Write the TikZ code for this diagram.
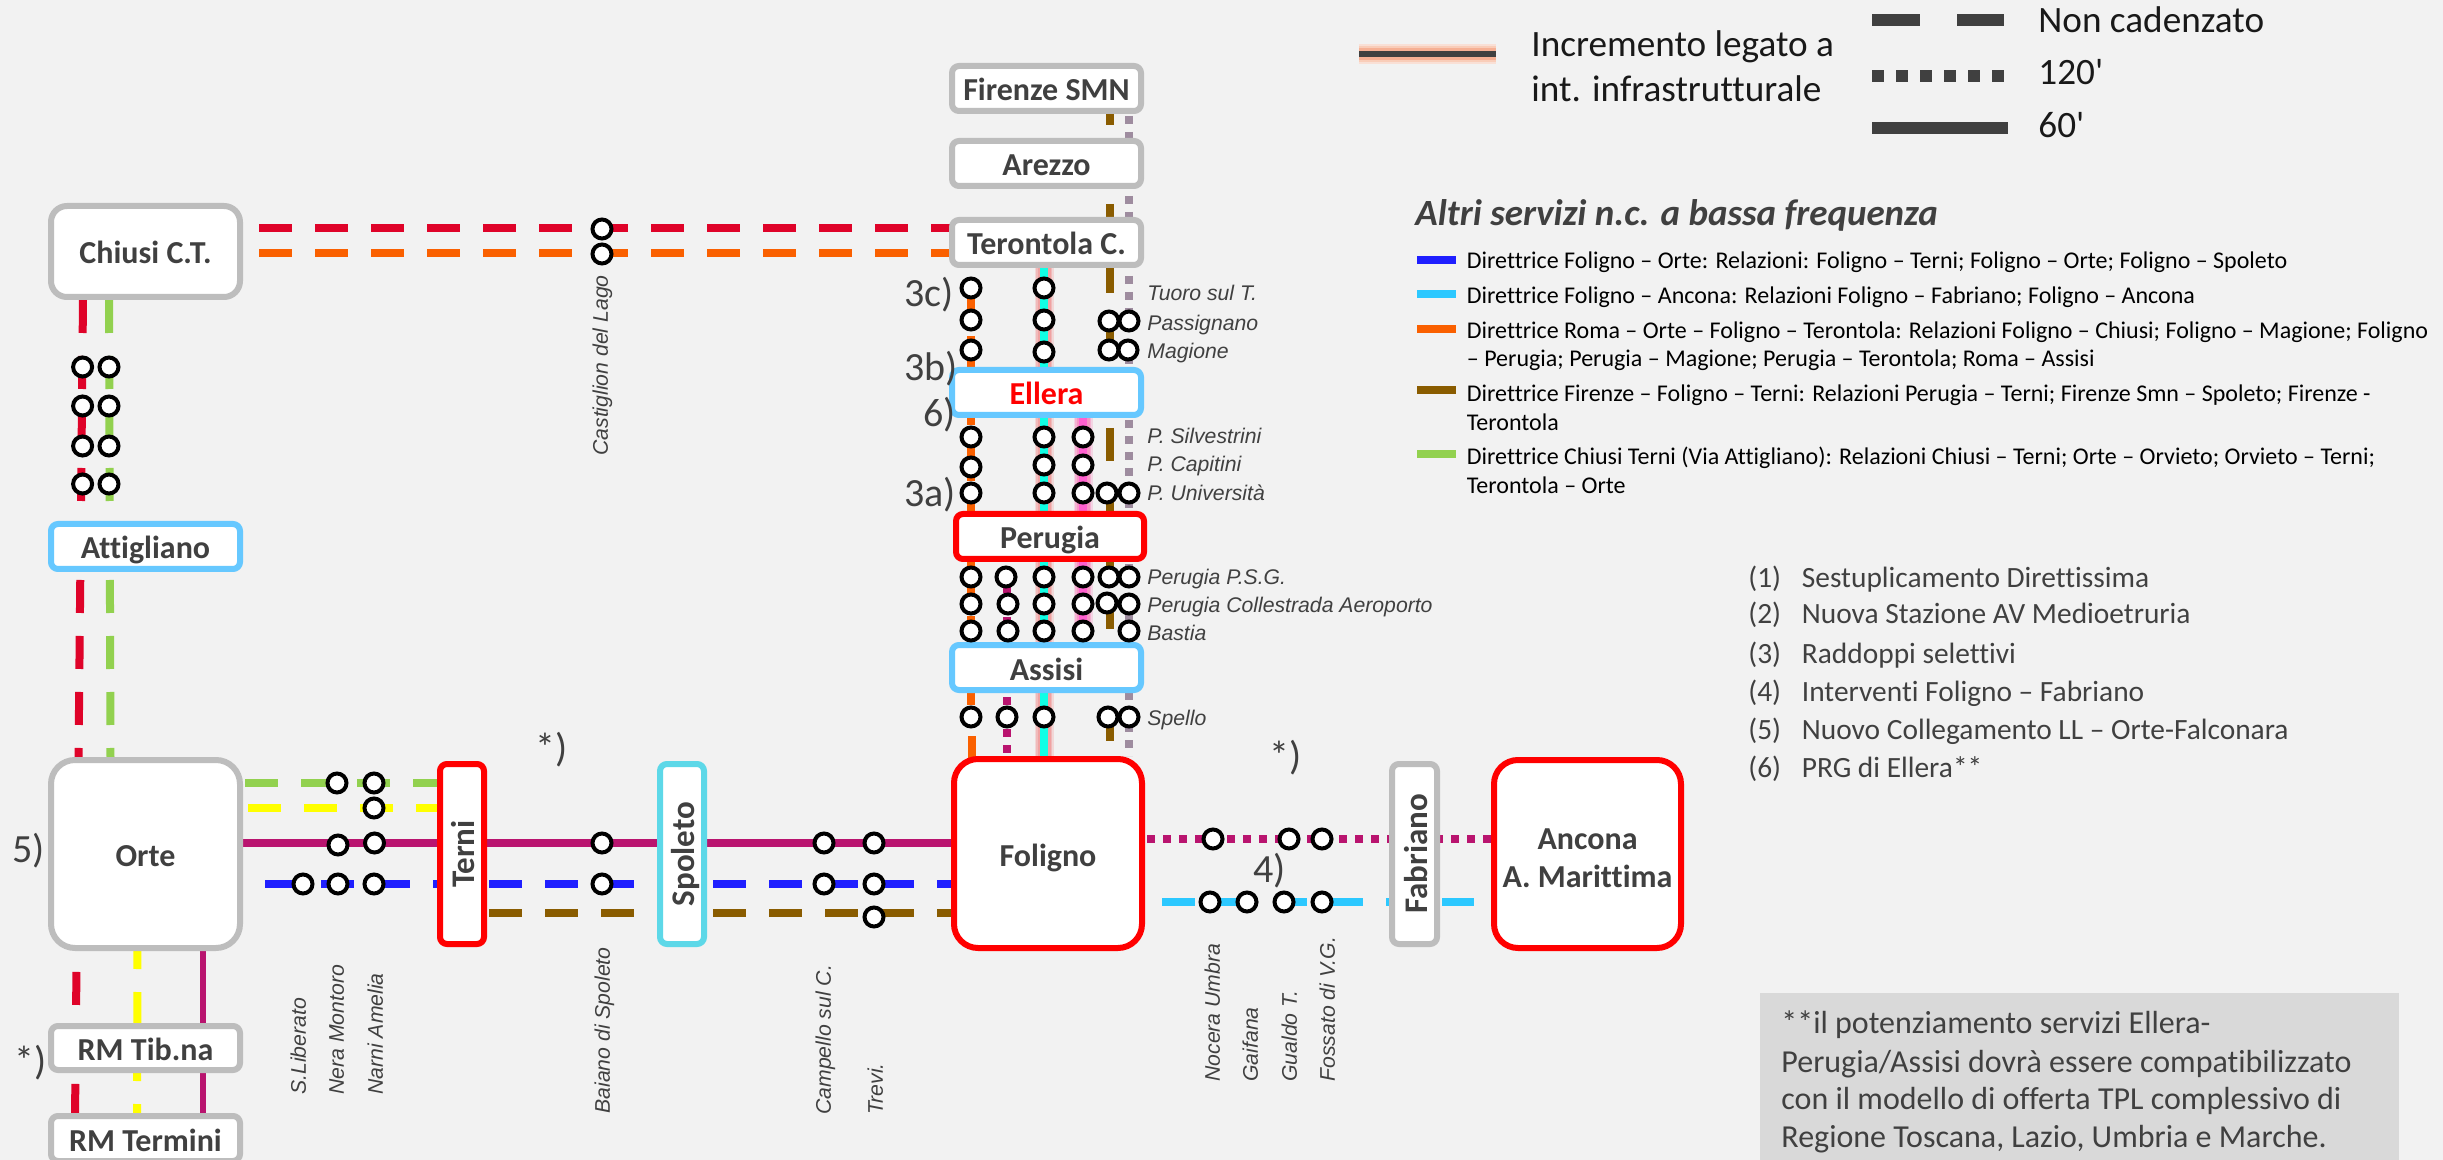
\documentclass[tikz,border=0pt]{standalone}
\usepackage{fontspec}
\setmainfont{Carlito}[Ligatures=NoCommon]
\newfontfamily\stnfont{Liberation Sans}
\newfontfamily\plainlat{Carlito}
\newcommand{\fz}[1]{\fontsize{#1}{#1}\selectfont}
\definecolor{bgc}{HTML}{F2F2F2}
\definecolor{txt}{HTML}{404040}
\definecolor{gbox}{HTML}{BDBDBD}
\definecolor{bbox}{HTML}{66C8FF}
\definecolor{rbox}{HTML}{FF0000}
\definecolor{sbox}{HTML}{5DD8E8}
\definecolor{lred}{HTML}{DF0329}
\definecolor{lorange}{HTML}{FA6000}
\definecolor{lgreen}{HTML}{92D14F}
\definecolor{lyellow}{HTML}{FFFF00}
\definecolor{lmag}{HTML}{B9146F}
\definecolor{lblue}{HTML}{1F1FFF}
\definecolor{lcyan}{HTML}{2CC8FF}
\definecolor{lbrown}{HTML}{8A5C00}
\definecolor{lgrey}{HTML}{9E8C9F}
\definecolor{lturq}{HTML}{10FFE6}
\definecolor{lpink}{HTML}{FF5FCF}
\definecolor{glow}{HTML}{F08080}
\definecolor{notebg}{HTML}{D9D9D9}
\definecolor{lgA}{HTML}{F9E0D6}
\definecolor{lgB}{HTML}{F9CDB9}
\definecolor{lgC}{HTML}{F6B094}
\tikzset{
  railwide/.style={line width=4pt,line cap=butt},
  railthin/.style={line width=3.25pt,line cap=butt},
  dashrail/.style={railwide,dash pattern=on 16.5pt off 11.5pt},
  dotrail/.style={railwide,dash pattern=on 4pt off 4pt},
  stnbox/.style={fill=white,line width=3pt,inner sep=0pt,outer sep=0pt,text=txt,font=\bfseries\fz{16},text height=12.5pt,text depth=0pt,align=center},
  stop/.style={circle,draw=black,fill=white,line width=2pt,minimum size=9.5pt,inner sep=0pt},
  stnbase/.style={font=\stnfont\itshape\fz{10.6},text=txt,inner sep=0pt,anchor=mid west},
  stnlabel/.style={stnbase,yshift=-1.2pt},
  stnlabelv/.style={stnbase,rotate=90},
  refnote/.style={font=\fz{20},text=txt,inner sep=0pt,anchor=mid west,yshift=-3.8pt},
  listtext/.style={font=\fz{12},text=black,inner sep=0pt,anchor=mid west,yshift=-1.8pt},
  numtext/.style={font=\fz{14.7},text=txt,inner sep=0pt,anchor=mid west,yshift=-3pt},
  notetext/.style={font=\fz{16},text=txt,inner sep=0pt,anchor=mid west,yshift=-2.6pt},
  legtext/.style={font=\fz{18.6},text=black!90,inner sep=0pt,anchor=mid west,yshift=-3.8pt},
  legbar/.style={line width=6pt,draw=txt},
  swatch/.style={line width=4pt},
}
\newcommand{\stb}[8]{\node[stnbox,draw=#6,rounded corners=#7,minimum width={(#4-6)*0.5pt},minimum height={(#5-6)*0.5pt}] (#1) at (#2,#3) {#8};}
\newcommand{\stbv}[7]{\node[stnbox,font=\bfseries\fz{16.5},draw=#6,rounded corners=3.5pt,rotate=90,minimum width={(#5-6)*0.5pt},minimum height={(#4-6)*0.5pt}] (#1) at (#2,#3) {#7};}
\begin{document}
\begin{tikzpicture}[x=0.5pt,y=-0.5pt]
\fill[bgc] (0,0) rectangle (2443,1160);
\useasboundingbox (0,0) rectangle (2443,1160);

% line end points
\coordinate (rcA) at (259,228); \coordinate (rcB) at (950,228);
\coordinate (ocA) at (259,253); \coordinate (ocB) at (950,253);
\coordinate (rvA) at (83,300);  \coordinate (rvB) at (75,1120);
\coordinate (gvA) at (109,300); \coordinate (gvB) at (110.5,757);
\coordinate (yvA) at (137.5,936); \coordinate (yvB) at (137,1113);
\coordinate (mvA) at (203,951); \coordinate (mvB) at (203,1113);
\coordinate (ghA) at (245,783); \coordinate (ghB) at (437,783);
\coordinate (yhA) at (248,808); \coordinate (yhB) at (437,808);
\coordinate (mhA) at (243,843); \coordinate (mhB) at (951,843);
\coordinate (bhA) at (265,884); \coordinate (bhB) at (951,884);
\coordinate (ohA) at (489,913); \coordinate (ohB) at (951,913);
\coordinate (mrA) at (1147,839); \coordinate (mrB) at (1491,839);
\coordinate (crA) at (1162,902); \coordinate (crB) at (1474,902);
\coordinate (ovA) at (971,280); \coordinate (ovB) at (971,705);
\coordinate (ovC) at (972,736); \coordinate (ovD) at (972,760);
\coordinate (mdA) at (1007,569); \coordinate (mdB) at (1007,756);
\coordinate (tqA) at (1044,268); \coordinate (tqB) at (1044,756);
\coordinate (pkA) at (1083,418); \coordinate (pkB) at (1083,631);
\coordinate (brA) at (1110,92); \coordinate (brB) at (1110,756);
\coordinate (gyA) at (1129,116); \coordinate (gyB) at (1129,756);

% glows
\foreach \w/\o in {9.5/.22,8/.32,6.5/.42}{
  \draw[glow,line width=\w pt,opacity=\o] (tqA) -- (tqB);
  \draw[lpink!60!glow,line width=\w pt,opacity=\o] (pkA) -- (pkB);
}
% lines
\draw[lgreen,dashrail] (gvA) -- (gvB);
\draw[lred,dashrail] (rvA) -- (rvB);
\draw[lyellow,dashrail] (yvA) -- (yvB);
\draw[lmag,railthin] (mvA) -- (mvB);
\draw[lred,dashrail] (rcA) -- (rcB);
\draw[lorange,dashrail] (ocA) -- (ocB);
\draw[lgreen,dashrail] (ghA) -- (ghB);
\draw[lyellow,dashrail] (yhA) -- (yhB);
\draw[lmag,railwide] (mhA) -- (mhB);
\draw[lblue,dashrail] (bhA) -- (bhB);
\draw[lbrown,dashrail] (ohA) -- (ohB);
\draw[lmag,dotrail] (mrA) -- (mrB);
\draw[lcyan,dashrail] (crA) -- (crB);
\draw[lorange,dashrail] (ovA) -- (ovB);
\draw[lorange,railwide] (ovC) -- (ovD);
\draw[lmag,dotrail] (mdA) -- (mdB);
\draw[lturq,railwide] (tqA) -- (tqB);
\draw[lpink,railwide] (pkA) -- (pkB);
\draw[lbrown,dashrail] (brA) -- (brB);
\draw[lgrey,dotrail] (gyA) -- (gyB);

% station boxes
\stb{firenze}{1046.5}{88.5}{195}{51}{gbox}{3.5pt}{Firenze SMN}
\stb{arezzo}{1046.5}{163.5}{195}{51}{gbox}{3.5pt}{Arezzo}
\stb{terontola}{1046.5}{242.5}{195}{51}{gbox}{3.5pt}{Terontola C.}
\stb{ellera}{1046.5}{392.5}{195}{51}{bbox}{3.5pt}{\textcolor{rbox}{Ellera}}
\stb{perugia}{1050}{536.5}{194}{51}{rbox}{3.5pt}{Perugia}
\stb{assisi}{1046.5}{667.5}{195}{51}{bbox}{3.5pt}{Assisi}
\stb{foligno}{1048}{853.5}{194}{195}{rbox}{12pt}{Foligno}
\stb{chiusi}{145.5}{251.5}{195}{97}{gbox}{8pt}{Chiusi C.T.}
\stb{attigliano}{145.5}{546.5}{195}{51}{bbox}{3.5pt}{Attigliano}
\stb{orte}{145.5}{854}{195}{194}{gbox}{12pt}{Orte}
\stb{tibna}{145.5}{1048}{195}{50}{gbox}{3.5pt}{RM Tib.na}
\stb{termini}{145.5}{1138.5}{195}{51}{gbox}{3.5pt}{RM Termini}
\stbv{terni}{462}{854}{50}{186}{rbox}{Terni}
\stbv{spoleto}{682}{854}{50}{186}{sbox}{Spoleto}
\stbv{fabriano}{1414.5}{854}{51}{186}{gbox}{Fabriano}
\stb{ancona}{1587.5}{854}{193}{194}{rbox}{12pt}{}
\node[stnbox,fill=none,draw=none] (anc1) at (1587.5,837) {Ancona};
\node[stnbox,fill=none,draw=none] (anc2) at (1587.5,875) {A. Marittima};

% stops
\foreach \n/\x/\y in {
 cl1/602/229,cl2/602/254,
 a1/82.6/367,a2/109/367,a3/82.6/406,a4/109/406,a5/82.6/446,a6/109/446,a7/82.6/484,a8/109/484,
 t1/337/783,t2/374/783,t3/374/808,t4/338/845,t5/374.5/843,t6/303/884,t7/338/884,t8/374/884,
 b1/602/843,b2/602/884,c1/824/843,c2/824/884,v1/874/843,v2/874/884,v3/874/917,
 f1/1213/839,f2/1289/839,f3/1322/839,f4/1210/902,f5/1247/902,f6/1284/902,f7/1322/902,
 o1/971/288,o2/971/320,o3/971/350,o4/971/437,o5/971/467,o6/971/493,o7/971/577,o8/971/604,o9/971/631,o10/971/717,
 m1/1006/577,m2/1008/604,m3/1008/631,m4/1007/717,
 q1/1044/288,q2/1044/320,q3/1044/352,q4/1044/437,q5/1044/465,q6/1044/493,q7/1044/577,q8/1044/604,q9/1044/631,q10/1044/717,
 p1/1083/437,p2/1083/465,p3/1083/493,p4/1083/577,p5/1083/604,p6/1083/631,
 r1/1109/321,r2/1109/350,r3/1107/493,r4/1109/577,r5/1107/603,r6/1108/717,
 g1/1129/321,g2/1128/350,g3/1129/493,g4/1129/577,g5/1129/604,g6/1129/631,g7/1129/717}{
  \node[stop] (\n) at (\x,\y) {};
}

% stop labels
\node[stnlabel] (l1) at (1147,293) {Tuoro sul T.};
\node[stnlabel] (l2) at (1147,323) {Passignano};
\node[stnlabel] (l3) at (1147,351) {Magione};
\node[stnlabel] (l4) at (1147,436) {P. Silvestrini};
\node[stnlabel] (l5) at (1147,464) {P. Capitini};
\node[stnlabel] (l6) at (1147,493) {P. Università};
\node[stnlabel] (l7) at (1147,577) {Perugia P.S.G.};
\node[stnlabel] (l8) at (1147,605) {Perugia Collestrada Aeroporto};
\node[stnlabel] (l9) at (1147,633) {Bastia};
\node[stnlabel] (l10) at (1147,718) {Spello};
\node[stnlabelv] (v1l) at (603,456) {Castiglion del Lago};
\node[stnlabelv] (v2l) at (301,1095) {S.Liberato};
\node[stnlabelv] (v3l) at (339,1095) {Nera Montoro};
\node[stnlabelv] (v4l) at (378,1095) {Narni Amelia};
\node[stnlabelv] (v5l) at (605,1114) {Baiano di Spoleto};
\node[stnlabelv] (v6l) at (826,1115) {Campello sul C.};
\node[stnlabelv] (v7l) at (878,1115) {Trevi.};
\node[stnlabelv] (v8l) at (1215,1082) {Nocera Umbra};
\node[stnlabelv] (v9l) at (1253,1082) {Gaifana};
\node[stnlabelv] (v10l) at (1292,1082) {Gualdo T.};
\node[stnlabelv] (v11l) at (1330,1082) {Fossato di V.G.};

% reference notes
\node[refnote] (n3c) at (904,294) {3c)};
\node[refnote] (n3b) at (904,368) {3b)};
\node[refnote] (n6) at (923,414) {6)};
\node[refnote] (n3a) at (904,494) {3a)};
\node[refnote] (n5) at (12,850) {5)};
\node[refnote] (nsa) at (14,1062) {*)};
\node[refnote] (nsb) at (535,749) {*)};
\node[refnote] (nsc) at (1269,757) {*)};
\node[refnote] (n4) at (1253,870) {4)};

% legend
\coordinate (igA) at (1359,54); \coordinate (igB) at (1496,54);
\draw[lgA,line width=10pt] (igA) -- (igB);
\draw[lgB,line width=8pt] (igA) -- (igB);
\draw[lgC,line width=6pt] (igA) -- (igB);
\draw[txt,line width=3pt] (igA) -- (igB);
\node[legtext] (lt1) at (1531,44) {Incremento legato a};
\node[legtext] (lt2) at (1531,89) {int. infrastrutturale};
\coordinate (dA) at (1872,20); \coordinate (dB) at (2004,20);
\coordinate (eA) at (1872,76); \coordinate (eB) at (2004,76);
\coordinate (sA) at (1872,128); \coordinate (sB) at (2008,128);
\draw[legbar,dash pattern=on 24pt off 18.5pt] (dA) -- (dB);
\draw[legbar,dash pattern=on 6pt off 6pt] (eA) -- (eB);
\draw[legbar] (sA) -- (sB);
\node[legtext] (lt3) at (2038,20) {Non cadenzato};
\node[legtext] (lt4) at (2038,72) {\plainlat 120'};
\node[legtext] (lt5) at (2038,125) {\plainlat 60'};

% service list
\node[font=\bfseries\itshape\fz{18.5},text=txt,inner sep=0pt,anchor=mid west,yshift=-3.8pt] (hd) at (1415,213) {Altri servizi n.c. a bassa frequenza};
\foreach \n/\c/\y in {sw1/lblue/260,sw2/lcyan/294,sw3/lorange/329,sw4/lbrown/390,sw5/lgreen/454}{
  \coordinate (\n a) at (1417,\y); \coordinate (\n b) at (1456,\y);
  \draw[\c,swatch] (\n a) -- (\n b);
}
\node[listtext] (d1) at (1466.5,260) {Direttrice Foligno – Orte: Relazioni: Foligno – Terni; Foligno – Orte; Foligno – Spoleto};
\node[listtext] (d2) at (1466.5,295) {Direttrice Foligno – Ancona: Relazioni Foligno – Fabriano; Foligno – Ancona};
\node[listtext] (d3) at (1466.5,330) {Direttrice Roma – Orte – Foligno – Terontola: Relazioni Foligno – Chiusi; Foligno – Magione; Foligno};
\node[listtext] (d3b) at (1466.5,358) {– Perugia; Perugia – Magione; Perugia – Terontola; Roma – Assisi};
\node[listtext] (d4) at (1466.5,393) {Direttrice Firenze – Foligno – Terni: Relazioni Perugia – Terni; Firenze Smn – Spoleto; Firenze -};
\node[listtext] (d4b) at (1466.5,422) {Terontola};
\node[listtext] (d5) at (1466.5,456) {Direttrice Chiusi Terni (Via Attigliano): Relazioni Chiusi – Terni; Orte – Orvieto; Orvieto – Terni;};
\node[listtext] (d5b) at (1466.5,485) {Terontola – Orte};

% numbered list
\foreach \n/\y/\a/\b in {1/577/(1)/Sestuplicamento Direttissima,2/613/(2)/Nuova Stazione AV Medioetruria,3/653/(3)/Raddoppi selettivi,4/691/(4)/Interventi Foligno – Fabriano,5/729/(5)/Nuovo Collegamento LL – Orte-Falconara,6/767/(6)/PRG di Ellera**}{
  \node[numtext] (na\n) at (1748,\y) {\a};
  \node[numtext] (nb\n) at (1801.5,\y) {\b};
}

% note box
\fill[notebg] (1760,993) rectangle (2399,1160);
\node[notetext] (nt1) at (1781,1024) {**il potenziamento servizi Ellera-};
\node[notetext] (nt2) at (1781,1063) {Perugia/Assisi dovrà essere compatibilizzato};
\node[notetext] (nt3) at (1781,1100) {con il modello di offerta TPL complessivo di};
\node[notetext] (nt4) at (1781,1138) {Regione Toscana, Lazio, Umbria e Marche.};
\end{tikzpicture}
\end{document}
